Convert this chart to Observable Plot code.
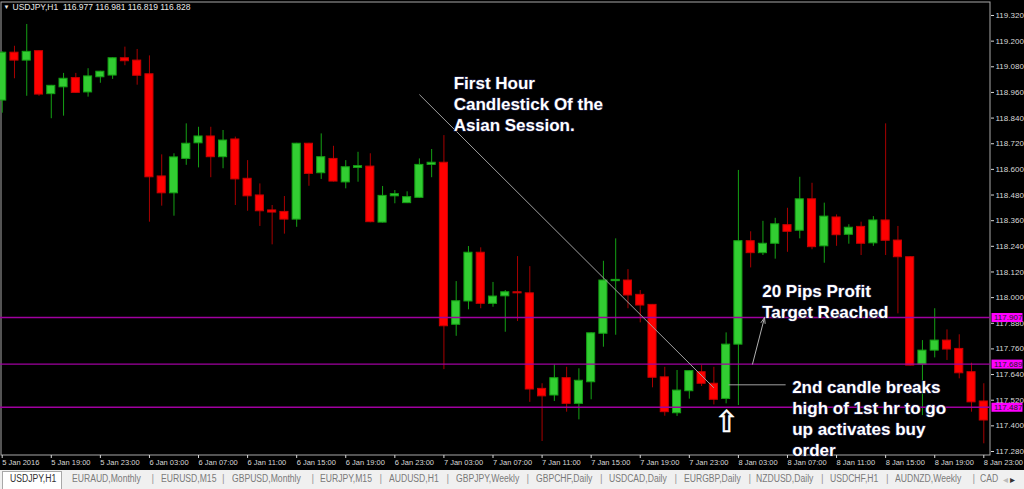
<!DOCTYPE html>
<html><head><meta charset="utf-8">
<script src="https://cdn.jsdelivr.net/npm/d3@7"></script>
<script src="https://cdn.jsdelivr.net/npm/@observablehq/plot@0.6"></script>
<style>
html,body{margin:0;padding:0;background:#000;width:1024px;height:489px;overflow:hidden;font-family:"Liberation Sans",Arial,sans-serif;}
#chart svg{display:block}
#tabs{position:relative;width:1024px;height:19px;background:#f0f0f0;overflow:hidden;}
#tabs span{position:absolute;top:3px;font-size:10px;color:#7a7a7a;white-space:nowrap;transform:scaleX(0.86);transform-origin:left center;}
#tabs .sep{color:#9a9a9a;transform:none}
#tabs .active{position:absolute;left:2px;top:1px;width:60px;height:18px;background:#fff;border:1px solid #a8a8a8;border-bottom:none;box-sizing:border-box;}
</style></head><body>
<div id="chart"></div>
<div id="tabs"></div>
<script>
// ---- data (USDJPY H1, 5 Jan 15:00 .. 8 Jan 23:00) ----
const open = [118.922,119.146,119.109,119.153,118.952,118.984,119.027,118.960,119.031,119.039,
119.120,119.109,119.045,118.567,118.488,118.649,118.722,118.754,118.657,118.740,
118.556,118.478,118.408,118.401,118.365,118.720,118.582,118.649,118.539,118.607,
118.613,118.351,118.474,118.442,118.467,118.621,118.631,117.873,117.982,118.210,
117.971,118.006,118.025,118.020,117.573,117.542,117.623,117.503,117.604,117.831,
118.077,118.080,118.013,117.966,117.627,117.459,117.562,117.651,117.597,117.526,
117.780,118.264,118.208,118.252,118.339,118.313,118.460,118.240,118.375,118.294,
118.331,118.254,118.361,118.267,118.189,117.687,117.752,117.799,117.760,117.651,
117.514];
const high = [119.150,119.176,119.278,119.155,118.993,119.049,119.049,119.071,119.059,119.122,
119.172,119.161,119.131,118.668,118.673,118.813,118.797,118.797,118.782,118.751,
118.641,118.532,118.431,118.473,118.722,118.722,118.766,118.708,118.641,118.680,
118.673,118.520,118.501,118.495,118.649,118.693,118.758,118.075,118.239,118.233,
118.071,118.033,118.192,118.145,117.597,117.685,117.674,117.667,117.835,118.170,
118.275,118.131,118.033,117.968,117.674,117.659,117.658,117.682,117.674,117.835,
118.595,118.308,118.357,118.371,118.418,118.563,118.535,118.442,118.387,118.341,
118.353,118.379,118.813,118.333,118.192,117.799,117.948,117.849,117.826,117.693,
117.597];
const low = [118.863,119.024,118.942,118.942,118.837,118.849,118.955,118.938,119.003,119.021,
119.085,118.994,118.353,118.428,118.381,118.619,118.607,118.561,118.603,118.431,
118.404,118.333,118.247,118.297,118.329,118.521,118.553,118.541,118.509,118.540,
118.350,118.349,118.439,118.440,118.465,118.561,117.663,117.819,117.943,117.948,
117.955,117.838,117.888,117.510,117.327,117.514,117.464,117.428,117.522,117.768,
117.824,117.948,117.882,117.578,117.445,117.444,117.525,117.584,117.498,117.503,
117.495,118.139,118.197,118.180,118.212,118.275,118.224,118.161,118.240,118.250,
118.197,118.240,118.197,117.924,117.680,117.448,117.718,117.706,117.620,117.464,
117.316];
const close = [119.146,119.109,119.150,118.950,118.991,119.024,118.958,119.035,119.057,119.120,
119.106,119.038,118.563,118.488,118.656,118.720,118.754,118.657,118.735,118.553,
118.474,118.404,118.398,118.365,118.720,118.579,118.657,118.543,118.610,118.615,
118.353,118.476,118.484,118.470,118.621,118.631,117.866,117.983,118.210,117.971,
118.005,118.025,118.020,117.570,117.538,117.623,117.503,117.611,117.833,118.080,
118.083,118.010,117.963,117.625,117.464,117.565,117.656,117.597,117.522,117.780,
118.264,118.208,118.252,118.343,118.308,118.460,118.236,118.379,118.292,118.327,
118.252,118.361,118.266,118.189,117.682,117.752,117.799,117.757,117.646,117.510,
117.425];
const tickLabels = ["5 Jan 2016","5 Jan 19:00","5 Jan 23:00","6 Jan 03:00","6 Jan 07:00","6 Jan 11:00",
"6 Jan 15:00","6 Jan 19:00","6 Jan 23:00","7 Jan 03:00","7 Jan 07:00","7 Jan 11:00","7 Jan 15:00",
"7 Jan 19:00","7 Jan 23:00","8 Jan 03:00","8 Jan 07:00","8 Jan 11:00","8 Jan 15:00","8 Jan 19:00","8 Jan 23:00"];
const barsPerTick = 4;
const priceTicks = [117.280,117.400,117.520,117.640,117.760,117.880,118.000,118.120,118.240,118.360,
118.480,118.600,118.720,118.840,118.960,119.080,119.200,119.320];
const levels = [117.907, 117.689, 117.487];
const headerText = "USDJPY,H1  116.977 116.981 116.819 116.828";
const notes = ["First Hour\nCandlestick Of the\nAsian Session.",
  "20 Pips Profit\nTarget Reached",
  "2nd candle breaks\nhigh of 1st hr to go\nup activates buy\norder"];
const noteBar = [36.8, 61.94, 64.38];
const notePrice = [119.044, 118.072, 117.621];
const trendLine = {x1: 34, y1: 118.950, x2: 58, y2: 117.578};
const pointerLine = {x1: 59.2, y1: 117.592, x2: 63.85, y2: 117.592};
const targetArrow = {x1: 61.15, y1: 117.689, x2: 62.13, y2: 117.907};
const upArrow = {x: 59.03, y: 117.415};
const tabNames = ["USDJPY,H1","EURAUD,Monthly","EURUSD,M15","GBPUSD,Monthly","EURJPY,M15","AUDUSD,H1",
"GBPJPY,Weekly","GBPCHF,Daily","USDCAD,Daily","EURGBP,Daily","NZDUSD,Daily","USDCHF,H1","AUDNZD,Weekly","CAD"];

// ---- build ----
const bars = open.map((o, i) => ({i, o, h: high[i], l: low[i], c: close[i], up: close[i] >= o}));
const tickIdx = tickLabels.map((_, k) => k * barsPerTick);
const boxSymbol = {draw(ctx) { ctx.rect(-15.5, -4.5, 31, 9); }};

const chart = Plot.plot({
  width: 1024, height: 470,
  marginLeft: 0, marginRight: 34, marginTop: 1, marginBottom: 15,
  style: {background: "#000", color: "#e0e0e0", fontFamily: "Liberation Sans, Arial, sans-serif", overflow: "visible"},
  color: {type: "identity"},
  x: {type: "linear", domain: [-0.1386, 80.546]},
  y: {domain: [117.2613, 119.3855]},
  marks: [
    Plot.frame({stroke: "#a8a8a8", inset: 0.5}),
    Plot.ruleX(bars, {x: "i", y1: "l", y2: "h", stroke: d => d.up ? "#14a014" : "#a80000", strokeWidth: 1}),
    Plot.rect(bars, {x1: d => d.i - 0.33, x2: d => d.i + 0.33, y1: "o", y2: "c",
      fill: d => d.up ? "#32cd32" : "#ff0000", stroke: d => d.up ? "#14a014" : "#c80000", strokeWidth: 1}),
    Plot.ruleY(levels, {stroke: "#a000a0", strokeWidth: 1.4}),
    Plot.link([trendLine], {x1: "x1", y1: "y1", x2: "x2", y2: "y2", stroke: "#a0a0a0", strokeWidth: 1}),
    Plot.link([pointerLine], {x1: "x1", y1: "y1", x2: "x2", y2: "y2", stroke: "#a0a0a0", strokeWidth: 1}),
    Plot.arrow([targetArrow], {x1: "x1", y1: "y1", x2: "x2", y2: "y2", stroke: "#b0b0b0", strokeWidth: 1, headLength: 9, headAngle: 40}),
    Plot.text([upArrow], {x: "x", y: "y", text: () => "\u21E7", fontSize: 30, fill: "#fff", stroke: "#fff", strokeWidth: 0.6, fontFamily: "DejaVu Sans"}),
    Plot.text(notes, {x: (d, i) => noteBar[i], y: (d, i) => notePrice[i], text: d => d,
      textAnchor: "start", lineAnchor: "top", lineHeight: 1.23, fontSize: 17, fontWeight: "bold",
      fill: "#fff", stroke: "#1a1a3a", strokeWidth: 1.5, paintOrder: "stroke"}),
    Plot.axisY(priceTicks, {anchor: "right", tickSize: 3, tickPadding: 2, tickFormat: d => d.toFixed(3), fontSize: 8, color: "#d8d8d8", label: null}),
    Plot.axisX(tickIdx, {anchor: "bottom", tickSize: 3, tickPadding: 1, tickFormat: d => tickLabels[d / barsPerTick],
      textAnchor: "start", fontSize: 7.5, color: "#d8d8d8", label: null}),
    Plot.dot(levels, {y: d => d, frameAnchor: "right", dx: 16.5, symbol: boxSymbol, fill: "#ff00ff", stroke: null, r: 5}),
    Plot.text(levels, {y: d => d, frameAnchor: "right", dx: 3.5, text: d => d.toFixed(3), textAnchor: "start", fontSize: 8, fill: "#202020"}),
    Plot.text([headerText], {frameAnchor: "top-left", dx: 12, dy: 2, textAnchor: "start", lineAnchor: "top", fontSize: 8.5, fill: "#e8e8e8"}),
    Plot.text(["\u25BC"], {frameAnchor: "top-left", dx: 3, dy: 3, textAnchor: "start", lineAnchor: "top", fontSize: 6, fill: "#e8e8e8"})
  ]
});
document.getElementById("chart").appendChild(chart);

// ---- tab bar ----
const tabLeft = [10, 71.7, 161, 231.7, 320, 389, 456, 535.7, 608.7, 684, 756, 830, 895, 980];
const sepLeft = [151.5, 222, 311.5, 379.5, 446.5, 526.5, 600, 674.5, 748.5, 821, 886, 972.5];
const tabs = document.getElementById("tabs");
const act = document.createElement("div"); act.className = "active"; tabs.appendChild(act);
tabNames.forEach((n, k) => {
  const s = document.createElement("span");
  s.textContent = n; s.style.left = tabLeft[k] + "px";
  if (k === 0) s.style.color = "#303030";
  tabs.appendChild(s);
});
sepLeft.forEach(x => { const s = document.createElement("span"); s.className = "sep"; s.textContent = "|"; s.style.left = x + "px"; tabs.appendChild(s); });
const cover = document.createElement("div");
cover.style.cssText = "position:absolute;left:1001px;top:0;width:23px;height:19px;background:#f0f0f0;font-size:8px;color:#555;line-height:19px;";
cover.innerHTML = "&nbsp;<span style='position:static;color:#bbb;transform:none'>\u25C2</span>&nbsp;<span style='position:static;color:#333;transform:none'>\u25B8</span>";
tabs.appendChild(cover);
</script>
</body></html>
